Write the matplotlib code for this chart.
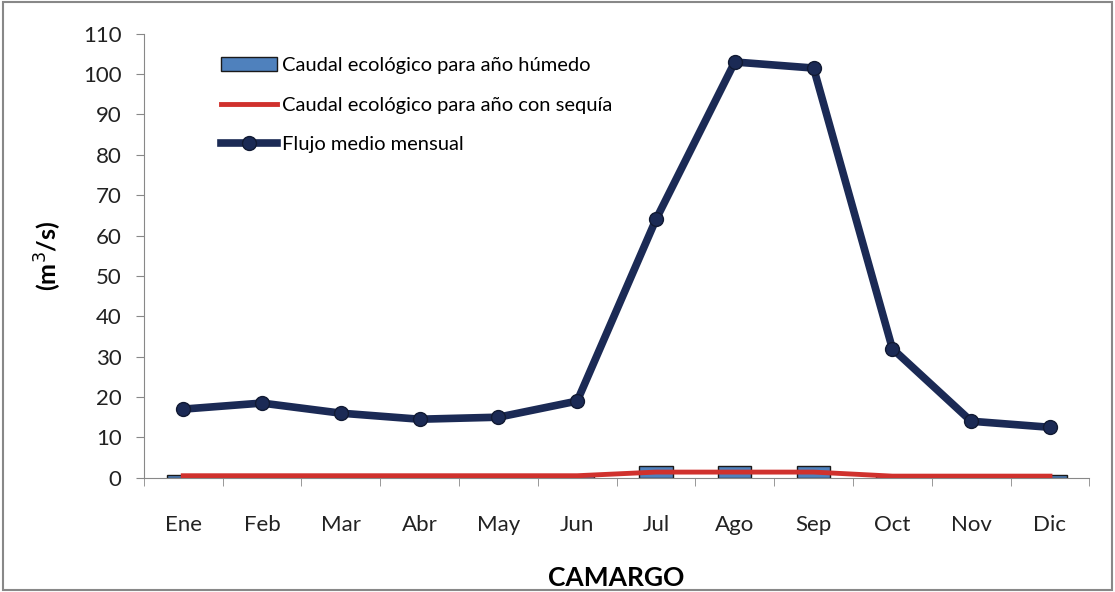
import matplotlib
matplotlib.use("Agg")
import matplotlib.pyplot as plt
from matplotlib.patches import Rectangle

months = ["Ene", "Feb", "Mar", "Abr", "May", "Jun", "Jul", "Ago", "Sep", "Oct", "Nov", "Dic"]
caudal_humedo = [0.8, 0.6, 0.6, 0.6, 0.6, 0.6, 2.8, 2.8, 2.8, 0.6, 0.6, 0.8]
caudal_sequia = [0.5, 0.5, 0.5, 0.5, 0.5, 0.5, 1.4, 1.4, 1.4, 0.4, 0.4, 0.4]
flujo_medio = [17.0, 18.5, 16.0, 14.5, 15.0, 19.0, 64.0, 103.0, 101.5, 32.0, 14.0, 12.5]

plt.rcParams['font.family'] = ['Lato', 'DejaVu Sans']

fig = plt.figure(figsize=(11.15, 5.92), dpi=100)
ax = fig.add_axes([0.129, 0.193, 0.848, 0.75])

x = list(range(len(months)))
b = ax.bar(x, caudal_humedo, width=0.42, color="#4F81BD", edgecolor="#1a1a1a", linewidth=1.0,
           label="Caudal ecológico para año húmedo", zorder=2)
l1, = ax.plot(x, caudal_sequia, color="#D0312D", linewidth=3.5,
              label="Caudal ecológico para año con sequía", zorder=3)
l2, = ax.plot(x, flujo_medio, color="#1B2A55", linewidth=5.5, marker="o", markersize=10,
              markerfacecolor="#1B2A55", markeredgecolor="#111a33",
              label="Flujo medio mensual", zorder=4)

ax.set_xlim(-0.5, 11.5)
ax.set_ylim(0, 110)
ax.set_yticks(range(0, 111, 10))
ax.set_xticks(x)
ax.set_xticklabels(months)
ax.set_xticks([i + 0.5 for i in range(-1, 12)], minor=True)
ax.tick_params(axis='x', which='major', length=0, pad=34, labelsize=16, colors="#222222")
ax.tick_params(axis='x', which='minor', length=6, color="#888888", direction="out")
ax.tick_params(axis='y', length=6, color="#888888", labelsize=16, pad=10, labelcolor="#222222")
for t in ax.get_xticklabels():
    t.set_verticalalignment("center")

for s in ["top", "right"]:
    ax.spines[s].set_visible(False)
ax.spines["left"].set_color("#888888")
ax.spines["bottom"].set_color("#888888")

ax.set_ylabel("(m$^3$/s)", fontsize=18, fontweight="bold", labelpad=14)
ax.set_xlabel("CAMARGO", fontsize=19, fontweight="bold", labelpad=22)

leg = ax.legend([b, l1, l2], [b.get_label(), l1.get_label(), l2.get_label()],
                loc="upper left", bbox_to_anchor=(0.073, 0.965), frameon=False, fontsize=14.5,
                handlelength=2.8, handletextpad=0.25, labelspacing=1.1, borderaxespad=0)

fig.patches.append(Rectangle((0.003, 0.003), 0.994, 0.994, transform=fig.transFigure,
                             fill=False, edgecolor="#888888", linewidth=1.5))

fig.savefig("out.png", dpi=100, facecolor="white")
